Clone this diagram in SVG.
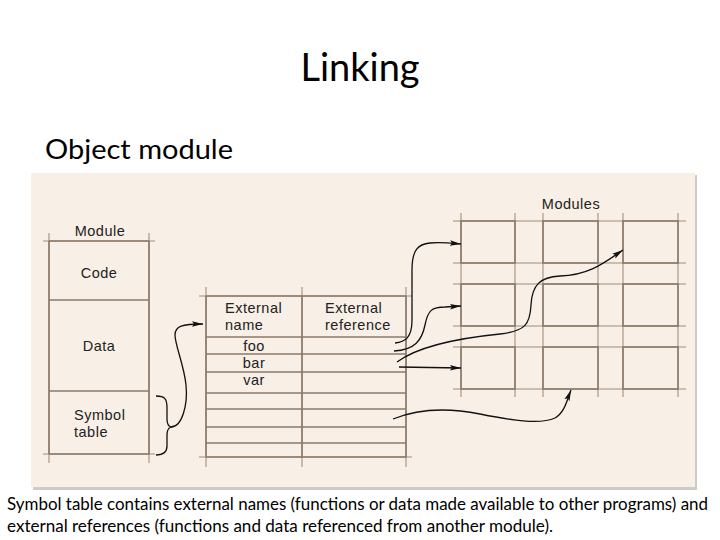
<svg xmlns="http://www.w3.org/2000/svg" width="720" height="540" viewBox="0 0 720 540">
<defs>
<style>
.ln{stroke:#8c7a68;stroke-width:1.6;fill:none}
.lt{stroke:#8c7a68;stroke-width:1.6;fill:none;opacity:.55}
.dt{font-family:"Liberation Sans",Arial,sans-serif;font-size:14.5px;letter-spacing:0.5px;fill:#222}
.cn{stroke:#111;stroke-width:1.3;fill:none}
.sl{font-family:Lato,"Liberation Sans",sans-serif;fill:#000}
</style>
<marker id="ah" markerWidth="12" markerHeight="8" refX="11" refY="4" orient="auto" markerUnits="userSpaceOnUse">
<path d="M0,1.2 L11,4 L0,6.8 L2,4 Z" fill="#111"/>
</marker>
</defs>
<rect width="720" height="540" fill="#fff"/>
<text class="sl" x="360" y="81" font-size="38" text-anchor="middle">Linking</text>
<text class="sl" x="45" y="159" font-size="27" textLength="188" lengthAdjust="spacingAndGlyphs">Object module</text>

<rect x="33" y="175" width="664" height="315" fill="#cfcac4"/>
<rect x="31" y="173" width="664" height="314" fill="#f8efe6"/>

<g id="module">
<text class="dt" x="100" y="236" text-anchor="middle">Module</text>
<line class="lt" x1="49" y1="233" x2="49" y2="463"/>
<line class="lt" x1="149" y1="233" x2="149" y2="463"/>
<line class="ln" x1="49" y1="241" x2="49" y2="454"/>
<line class="ln" x1="149" y1="241" x2="149" y2="454"/>
<line class="lt" x1="43" y1="241" x2="155" y2="241"/>
<line class="ln" x1="49" y1="241" x2="149" y2="241"/>
<line class="ln" x1="49" y1="300" x2="149" y2="300"/>
<line class="ln" x1="49" y1="391" x2="149" y2="391"/>
<line class="lt" x1="43" y1="454" x2="155" y2="454"/>
<line class="ln" x1="49" y1="454" x2="149" y2="454"/>
<text class="dt" x="99" y="278" text-anchor="middle">Code</text>
<text class="dt" x="99" y="351" text-anchor="middle">Data</text>
<text class="dt" x="74" y="420">Symbol</text>
<text class="dt" x="74" y="436.5">table</text>
</g>

<g id="symtable">
<line class="lt" x1="206" y1="287" x2="206" y2="467"/>
<line class="lt" x1="302" y1="287" x2="302" y2="467"/>
<line class="lt" x1="406" y1="287" x2="406" y2="467"/>
<line class="ln" x1="206" y1="296" x2="206" y2="457"/>
<line class="ln" x1="302" y1="296" x2="302" y2="457"/>
<line class="ln" x1="406" y1="296" x2="406" y2="457"/>
<line class="lt" x1="199" y1="296" x2="412" y2="296"/>
<line class="ln" x1="206" y1="296" x2="406" y2="296"/>
<line class="ln" x1="206" y1="337" x2="406" y2="337"/>
<line class="ln" x1="206" y1="354" x2="406" y2="354"/>
<line class="ln" x1="206" y1="372" x2="406" y2="372"/>
<line class="ln" x1="206" y1="393" x2="406" y2="393"/>
<line class="ln" x1="206" y1="409" x2="406" y2="409"/>
<line class="ln" x1="206" y1="427" x2="406" y2="427"/>
<line class="ln" x1="206" y1="443" x2="406" y2="443"/>
<line class="lt" x1="199" y1="457" x2="412" y2="457"/>
<line class="ln" x1="206" y1="457" x2="406" y2="457"/>
<text class="dt" x="225" y="313">External</text>
<text class="dt" x="225" y="330">name</text>
<text class="dt" x="325" y="313">External</text>
<text class="dt" x="325" y="330">reference</text>
<text class="dt" x="254" y="351" text-anchor="middle">foo</text>
<text class="dt" x="254" y="368" text-anchor="middle">bar</text>
<text class="dt" x="254" y="385" text-anchor="middle">var</text>
</g>

<g id="modules">
<text class="dt" x="571" y="209" text-anchor="middle">Modules</text>
<g id="grid-lines">
<line class="lt" x1="453" y1="221" x2="686" y2="221"/>
<line class="lt" x1="453" y1="263" x2="686" y2="263"/>
<line class="lt" x1="453" y1="284" x2="686" y2="284"/>
<line class="lt" x1="453" y1="326" x2="686" y2="326"/>
<line class="lt" x1="453" y1="347" x2="686" y2="347"/>
<line class="lt" x1="453" y1="389" x2="686" y2="389"/>
<line class="lt" x1="461" y1="213" x2="461" y2="397"/>
<line class="lt" x1="515" y1="213" x2="515" y2="397"/>
<line class="lt" x1="543" y1="213" x2="543" y2="397"/>
<line class="lt" x1="598" y1="213" x2="598" y2="397"/>
<line class="lt" x1="623" y1="213" x2="623" y2="397"/>
<line class="lt" x1="678" y1="213" x2="678" y2="397"/>
</g>
<g id="m11"><rect class="ln" x="461" y="221" width="54" height="42"/></g>
<g id="m12"><rect class="ln" x="543" y="221" width="55" height="42"/></g>
<g id="m13"><rect class="ln" x="623" y="221" width="55" height="42"/></g>
<g id="m21"><rect class="ln" x="461" y="284" width="54" height="42"/></g>
<g id="m22"><rect class="ln" x="543" y="284" width="55" height="42"/></g>
<g id="m23"><rect class="ln" x="623" y="284" width="55" height="42"/></g>
<g id="m31"><rect class="ln" x="461" y="347" width="54" height="42"/></g>
<g id="m32"><rect class="ln" x="543" y="347" width="55" height="42"/></g>
<g id="m33"><rect class="ln" x="623" y="347" width="55" height="42"/></g>
</g>

<g id="connectors">
<path class="cn" d="M156,396 C165,396 167,399 167,408 L167,419 C167,424 168,426 171,427 C168,428 167,430 167,435 L167,446 C167,452 164,455 156,455"/>
<path class="cn" marker-end="url(#ah)" d="M171,427 C182,427 188,405 186,385 C184,365 175,345 175,335 C175,326 182,324 203,324"/>
<path class="cn" marker-end="url(#ah)" d="M395,343 C405,342 412,338 412,320 L412,270 C412,250 418,244 430,243 C440,242 450,243 461,244"/>
<path class="cn" marker-end="url(#ah)" d="M394,351 C415,350 422,340 425,325 C428,310 432,307 445,307 L461,306"/>
<path class="cn" marker-end="url(#ah)" d="M397,362 C420,345 460,338 500,334 C525,331 530,325 531,305 C532,285 540,277 560,276 C590,275 605,262 623,250"/>
<path class="cn" marker-end="url(#ah)" d="M399,367 L461,368"/>
<path class="cn" marker-end="url(#ah)" d="M393,419 C420,408 450,408 480,414 C510,420 540,425 555,418 C565,412 567,400 571,390"/>
</g>

<text class="sl" x="7" y="510" font-size="17" textLength="701" lengthAdjust="spacingAndGlyphs">Symbol table contains external names (functions or data made available to other programs) and</text>
<text class="sl" x="7" y="532" font-size="17" textLength="546" lengthAdjust="spacingAndGlyphs">external references (functions and data referenced from another module).</text>
</svg>
